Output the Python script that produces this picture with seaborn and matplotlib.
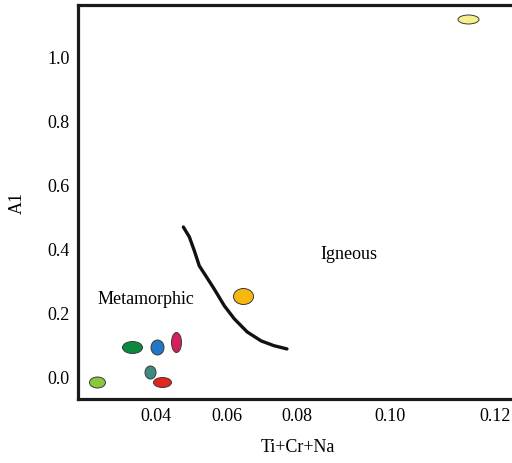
import numpy as np
import pandas as pd
import matplotlib
matplotlib.use("Agg")
import matplotlib.pyplot as plt
import seaborn as sns
from matplotlib.path import Path
from matplotlib.transforms import Affine2D

# samples (Ti+Cr+Na vs Al)
samples = ["s1", "s2", "s3", "s4", "s5", "s6", "s7", "s8"]
ti_cr_na = [0.0231, 0.0332, 0.0403, 0.0454, 0.0383, 0.0417, 0.0646, 0.1149]
al = [-0.016, 0.093, 0.093, 0.109, 0.016, -0.016, 0.252, 1.115]

# boundary line between metamorphic and igneous fields
line_x = [0.0476, 0.0493, 0.0507, 0.0521, 0.0541, 0.0563, 0.0592, 0.0620,
          0.0657, 0.0697, 0.0734, 0.0771]
line_y = [0.467, 0.436, 0.393, 0.346, 0.312, 0.274, 0.221, 0.181,
          0.140, 0.112, 0.097, 0.087]

x_ticks = [0.04, 0.06, 0.08, 0.10, 0.12]
x_tick_labels = ["0.04", "0.06", "0.08", "0.10", "0.12"]
y_ticks = [0.0, 0.2, 0.4, 0.6, 0.8, 1.0]
y_tick_labels = ["0.0", "0.2", "0.4", "0.6", "0.8", "1.0"]

# style: marker colours and ellipse shape (w, h in px)
colors = ["#8cc63e", "#0b8a3e", "#1f78c8", "#d4205a", "#3d8c80", "#e0261f",
          "#f7b70f", "#f5f08c"]
shape_w = [16, 20, 13, 10, 11, 18, 20, 21]
shape_h = [11, 12, 15, 20, 13, 10, 16, 9]

# the original x axis is not linear: relative spacing of its ticks
x_scale_pos = np.array([0.0, 71.0, 141.0, 234.0, 339.0])
xt = np.array(x_ticks)


def _pw(x, src, dst):
    x = np.asarray(x, dtype=float)
    sl = (dst[1] - dst[0]) / (src[1] - src[0])
    sr = (dst[-1] - dst[-2]) / (src[-1] - src[-2])
    mid = np.interp(x, src, dst)
    out = np.where(x < src[0], dst[0] + (x - src[0]) * sl, mid)
    out = np.where(x > src[-1], dst[-1] + (x - src[-1]) * sr, out)
    return out


def fwd(x):
    return _pw(x, xt, x_scale_pos)


def inv(x):
    return _pw(x, x_scale_pos, xt)


sns.set_style("white")
plt.rcParams["font.family"] = ["Liberation Serif", "DejaVu Serif"]
plt.rcParams["text.color"] = "black"
plt.rcParams["axes.labelcolor"] = "black"
plt.rcParams["xtick.color"] = "black"
plt.rcParams["ytick.color"] = "black"

fig = plt.figure(figsize=(5.12, 4.64), dpi=100)
ax = fig.add_axes([0.152, 0.138, 0.86, 0.849])
ax.set_xscale("function", functions=(fwd, inv))

df = pd.DataFrame({"sample": samples, "x": ti_cr_na, "y": al})
for i, row in df.iterrows():
    ell = Affine2D().scale(shape_w[i], shape_h[i]).transform_path(Path.unit_circle())
    s = (max(shape_w[i], shape_h[i]) * 0.72) ** 2
    sns.scatterplot(x=[row["x"]], y=[row["y"]], marker=ell, s=s,
                    color=colors[i], edgecolor="#3a3a3a", linewidth=0.7,
                    ax=ax, zorder=3, legend=False)

sns.lineplot(x=line_x, y=line_y, sort=False, color="#111111", lw=2.4, ax=ax)

ax.text(0.0369, 0.243, "Metamorphic", fontsize=13, ha="center", va="center")
ax.text(0.0912, 0.386, "Igneous", fontsize=13, ha="center", va="center")

ax.set_xlim(0.0178, 0.1245)
ax.set_ylim(-0.069, 1.159)
ax.set_xticks(x_ticks)
ax.set_xticklabels(x_tick_labels)
ax.set_yticks(y_ticks)
ax.set_yticklabels(y_tick_labels)
ax.tick_params(length=0, labelsize=13, pad=6)
ax.set_xlabel("Ti+Cr+Na", fontsize=13, labelpad=10)
ax.set_ylabel("A1", fontsize=13, labelpad=15)

for side in ["left", "top", "bottom"]:
    ax.spines[side].set_color("#1a1a1a")
    ax.spines[side].set_linewidth(2.3)
ax.spines["right"].set_visible(False)

fig.savefig("out.png", dpi=100)
